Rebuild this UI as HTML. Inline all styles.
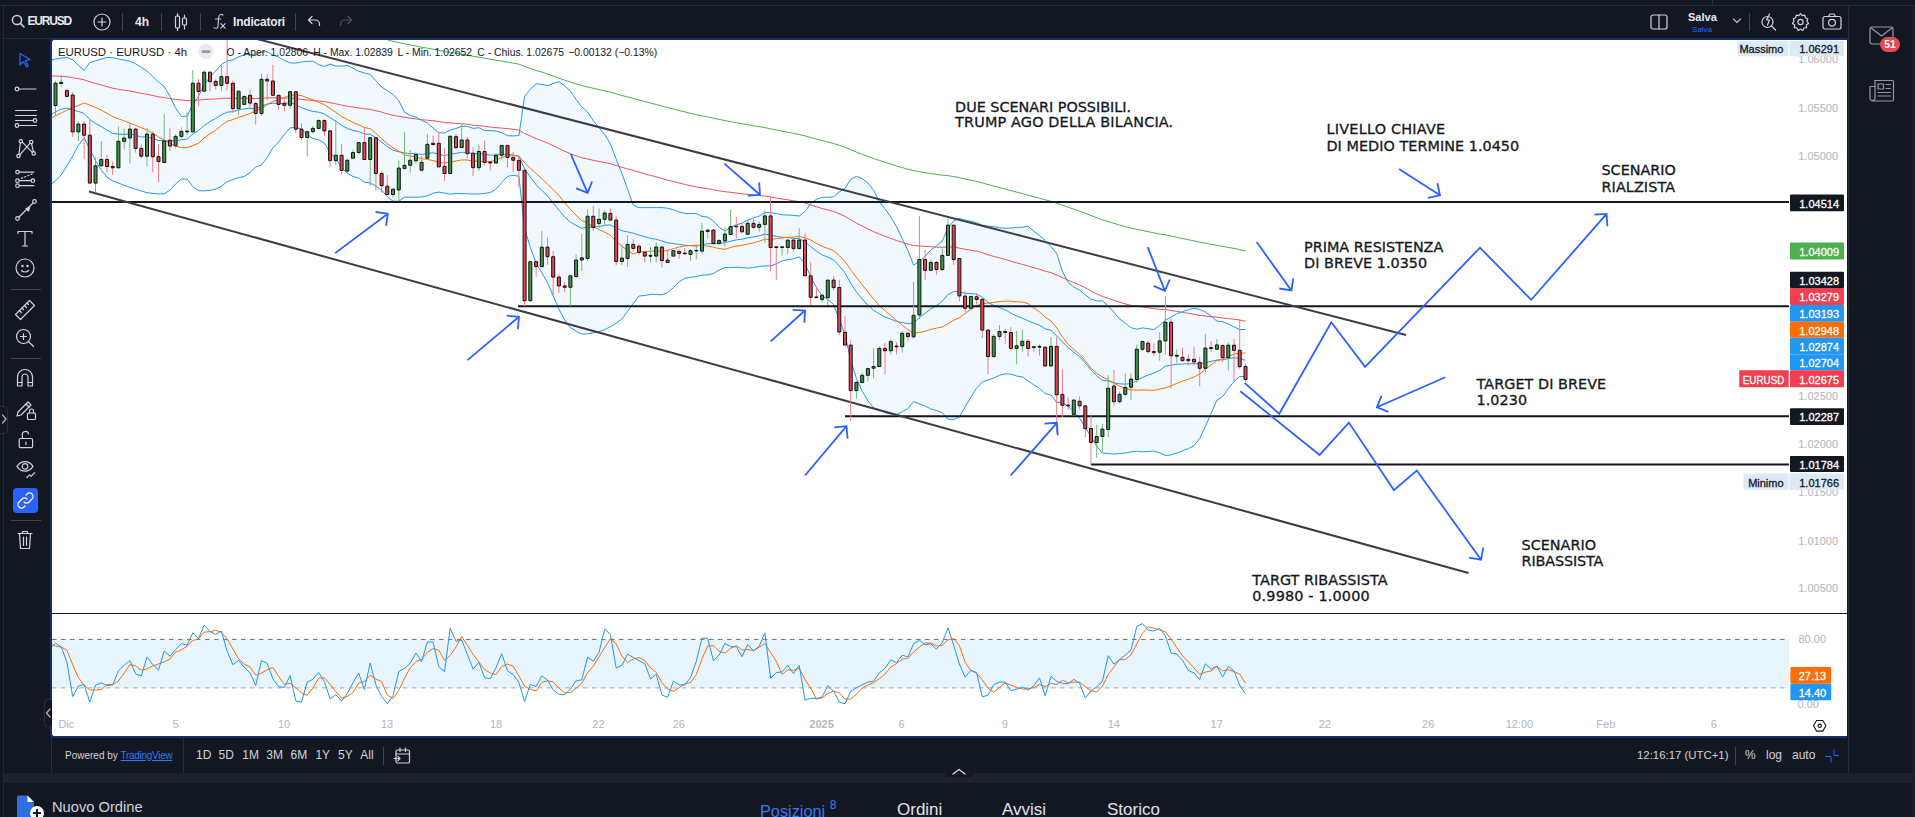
<!DOCTYPE html>
<html><head><meta charset="utf-8"><title>EURUSD</title><style>
*{box-sizing:border-box}
html,body{margin:0;padding:0;width:1915px;height:817px;overflow:hidden;background:#131722;font-family:"Liberation Sans", Arial, sans-serif;}
.a{position:absolute}
#strip{left:0;top:0;width:1915px;height:5px;background:#141823}
#topline{left:0;top:5px;width:1915px;height:1px;background:#2a2e39}
#lline{left:3px;top:5px;width:1px;height:812px;background:#262a35}
#rline{left:1913px;top:5px;width:2px;height:812px;background:#1c1f28}
#tbsep{left:4px;top:38px;width:1845px;height:1px;background:#2a2e39}
#rsep{left:1848px;top:6px;width:1px;height:767px;background:#2a2e39}
#chartbox{left:50px;top:38px;width:1797px;height:700px;border:2px solid #1c2e69;border-right:none;border-radius:4px 0 0 4px;background:#fff;overflow:hidden}
#hstrip{left:4px;top:773px;width:1909px;height:10px;background:#1e222d}
.tb{color:#d1d4dc;font-size:13px;white-space:nowrap}
.vs{width:1px;height:18px;background:#434651;top:13px}
svg text{font-family:"Liberation Sans", Arial, sans-serif}
</style></head><body>
<div class="a" id="strip"></div><div class="a" id="topline"></div><div class="a" id="lline"></div><div class="a" id="rline"></div>
<div class="a" id="tbsep"></div><div class="a" style="left:1712px;top:0;width:1px;height:5px;background:#2a2e39"></div><div class="a" id="rsep"></div>
<div class="a" id="chartbox"></div>
<div class="a" id="hstrip"></div>
<svg class="a" style="left:11px;top:14px" width="14" height="14" viewBox="0 0 14 14" fill="none" stroke="#d1d4dc" stroke-width="1.5" stroke-linecap="round" stroke-linejoin="round"><circle cx="6" cy="6" r="4.6"/><path d="M9.4 9.4L13 13"/></svg><div class="a tb" style="left:27.5px;top:14px;font-weight:bold;font-size:12px;letter-spacing:-1.2px;color:#e6e8ee">EURUSD</div><svg class="a" style="left:93px;top:13px" width="18" height="18" viewBox="0 0 18 18" fill="none" stroke="#d1d4dc" stroke-width="1.2" stroke-linecap="round" stroke-linejoin="round"><circle cx="9" cy="9" r="8"/><path d="M9 5v8M5 9h8"/></svg><div class="a vs" style="left:122px"></div><div class="a vs" style="left:161px"></div><div class="a vs" style="left:200px"></div><div class="a vs" style="left:295px"></div><div class="a tb" style="left:135px;top:14.5px;font-weight:bold;font-size:12px;color:#e6e8ee">4h</div><svg class="a" style="left:174px;top:12px" width="14" height="20" viewBox="0 0 14 20" fill="none" stroke="#d1d4dc" stroke-width="1.2" stroke-linecap="round" stroke-linejoin="round"><rect x="1.5" y="4" width="4" height="12" rx="1"/><path d="M3.5 1.5v2.5M3.5 16v2.5"/><rect x="8.5" y="6" width="4" height="7" rx="1"/><path d="M10.5 3v3M10.5 13v4"/></svg><svg class="a" style="left:210px;top:12px" width="18" height="18" viewBox="0 0 18 18" fill="none" stroke="#c9ccd4" stroke-width="1.1" stroke-linecap="round" stroke-linejoin="round"><path d="M13 3.2C12 2 9.2 2 8.8 4.8L8 14.5C7.8 16.5 5.6 16.8 4 15.6M5.5 7H10.5M10.8 11.7L15.2 16.2M15.2 11.7L10.8 16.2"/></svg><div class="a tb" style="left:233px;top:15px;font-weight:bold;font-size:12px;letter-spacing:-0.2px;color:#e6e8ee">Indicatori</div><svg class="a" style="left:307px;top:15px" width="14" height="12" viewBox="0 0 14 12" fill="none" stroke="#d1d4dc" stroke-width="1.2" stroke-linecap="round" stroke-linejoin="round"><path d="M5 1.5L1.5 5 5 8.5M1.5 5H8.5a4 4 0 0 1 4 4v1.5"/></svg><svg class="a" style="left:339px;top:15px" width="14" height="12" viewBox="0 0 14 12" fill="none" stroke="#50535e" stroke-width="1.2" stroke-linecap="round" stroke-linejoin="round"><path d="M9 1.5L12.5 5 9 8.5M12.5 5H5.5a4 4 0 0 0-4 4v1.5"/></svg><svg class="a" style="left:1650px;top:14px" width="18" height="16" viewBox="0 0 18 16" fill="none" stroke="#d1d4dc" stroke-width="1.2" stroke-linecap="round" stroke-linejoin="round"><rect x="1" y="1" width="16" height="14" rx="2"/><path d="M9 1v14"/></svg><div class="a tb" style="left:1688px;top:11px;font-size:11px;font-weight:bold;color:#e6e8ee">Salva</div><div class="a tb" style="left:1692px;top:24.5px;font-size:8px;color:#2962ff">Salva</div><svg class="a" style="left:1732px;top:17px" width="10" height="8" viewBox="0 0 10 8" fill="none" stroke="#b2b5be" stroke-width="1.2" stroke-linecap="round" stroke-linejoin="round"><path d="M1.5 2l3.5 3.5L8.5 2"/></svg><div class="a vs" style="left:1749px;top:13px"></div><svg class="a" style="left:1760px;top:12px" width="18" height="19" viewBox="0 0 18 19" fill="none" stroke="#d1d4dc" stroke-width="1.2" stroke-linecap="round" stroke-linejoin="round"><circle cx="7.5" cy="10" r="5.5"/><path d="M11.5 14l4 4"/><path d="M9.5 2L6.5 8h3l-2 5"/></svg><svg class="a" style="left:1791px;top:12px" width="19" height="19" viewBox="0 0 19 19" fill="none" stroke="#d1d4dc" stroke-width="1.2" stroke-linecap="round" stroke-linejoin="round"><path d="M9.5 1.5l1.6 2.2 2.6-.6.6 2.6 2.5 1-.9 2.5 1.6 2.2-2.2 1.6.4 2.7-2.7.3-1.2 2.4-2.3-1.4-2.3 1.4-1.2-2.4-2.7-.3.4-2.7-2.2-1.6 1.6-2.2-.9-2.5 2.5-1 .6-2.6 2.6.6z"/><circle cx="9.5" cy="10" r="2.6"/></svg><svg class="a" style="left:1822px;top:13px" width="20" height="17" viewBox="0 0 20 17" fill="none" stroke="#d1d4dc" stroke-width="1.2" stroke-linecap="round" stroke-linejoin="round"><rect x="1" y="3.5" width="18" height="12.5" rx="2"/><path d="M6.5 3.5l1.5-2.5h4l1.5 2.5"/><circle cx="10" cy="9.8" r="3.4"/></svg><svg class="a" style="left:1869px;top:26px" width="25" height="19" viewBox="0 0 25 19" fill="none" stroke="#9598a1" stroke-width="1.2" stroke-linecap="round" stroke-linejoin="round"><rect x="1" y="1" width="23" height="17" rx="2"/><path d="M1.5 1.5L12.5 10 23.5 1.5"/></svg><div class="a" style="left:1880px;top:36.5px;width:20px;height:15.5px;border-radius:8px;background:#e5484d;color:#fff;font-size:10.5px;font-weight:bold;text-align:center;line-height:15.5px">51</div><svg class="a" style="left:1869px;top:78px" width="26" height="24" viewBox="0 0 26 24" fill="none" stroke="#9598a1" stroke-width="1.2" stroke-linecap="round" stroke-linejoin="round"><path d="M6 2.5h17a1.5 1.5 0 0 1 1.5 1.5v17.5a1.5 1.5 0 0 1-1.5 1.5H4a3 3 0 0 1-3-3V8.5h5"/><path d="M6 2.5v17.5a2.5 2.5 0 0 1-2.5 2.5"/><rect x="9" y="6" width="5.5" height="5"/><path d="M17 6.5h4.5M17 10.5h4.5M9 14.5h12.5M9 18h12.5"/></svg>
<svg class="a" style="left:18px;top:52px" width="14" height="16" viewBox="0 0 14 16" fill="none" stroke="#2962ff" stroke-width="1.3" stroke-linecap="round" stroke-linejoin="round"><path d="M2 1.5l10 6-4.5 1.2 2.8 5.3-1.8.9-2.8-5.2L2 12.8z"/></svg><svg class="a" style="left:14px;top:83px" width="24" height="12" viewBox="0 0 24 12" fill="none" stroke="#d1d4dc" stroke-width="1.2" stroke-linecap="round" stroke-linejoin="round"><circle cx="3" cy="6" r="1.8"/><path d="M4.8 6H22"/></svg><svg class="a" style="left:14px;top:108px" width="24" height="20" viewBox="0 0 24 20" fill="none" stroke="#d1d4dc" stroke-width="1.2" stroke-linecap="round" stroke-linejoin="round"><path d="M1.5 2.5h21M1.5 7.5h21M1.5 12.5h18M4.5 17.5h18"/><circle cx="21" cy="12.5" r="1.8"/><circle cx="3" cy="17.5" r="1.8"/></svg><svg class="a" style="left:14px;top:137px" width="24" height="24" viewBox="0 0 24 24" fill="none" stroke="#d1d4dc" stroke-width="1.2" stroke-linecap="round" stroke-linejoin="round"><circle cx="6.8" cy="4.3" r="1.7"/><circle cx="17.2" cy="5.1" r="1.7"/><circle cx="4.5" cy="19" r="1.7"/><circle cx="19.7" cy="16.4" r="1.7"/><path d="M6.4 6L4.9 17.3M5.8 17.8L15.9 6.3M8.3 5.2L18.3 15.4M17.6 6.8L19.4 14.7"/></svg><svg class="a" style="left:14px;top:168px" width="24" height="22" viewBox="0 0 24 22" fill="none" stroke="#d1d4dc" stroke-width="1.2" stroke-linecap="round" stroke-linejoin="round"><circle cx="3.5" cy="4.1" r="1.8"/><circle cx="3.5" cy="12.7" r="1.8"/><circle cx="3.5" cy="17.7" r="1.8"/><circle cx="18.9" cy="12.7" r="1.8"/><path d="M5.3 4.1H19.8M5.3 12.7H17.1M5.3 17.7H19.8"/><path d="M7.5 10.3L18.5 5.8" stroke-dasharray="1.2 2.2"/></svg><svg class="a" style="left:14px;top:198px" width="24" height="24" viewBox="0 0 24 24" fill="none" stroke="#d1d4dc" stroke-width="1.2" stroke-linecap="round" stroke-linejoin="round"><circle cx="3.5" cy="20.5" r="1.8"/><circle cx="20.5" cy="3.5" r="1.8"/><path d="M5 19L19 5"/><path d="M12 10.5l3.5-1 -1 3.5z" fill="#d1d4dc"/></svg><svg class="a" style="left:16px;top:229px" width="18" height="18" viewBox="0 0 18 18" fill="none" stroke="#d1d4dc" stroke-width="1.2" stroke-linecap="round" stroke-linejoin="round"><path d="M2 2.5h14M9 2.5V17M6.5 17h5M2 2.5v2M16 2.5v2"/></svg><svg class="a" style="left:15px;top:258px" width="20" height="20" viewBox="0 0 20 20" fill="none" stroke="#d1d4dc" stroke-width="1.2" stroke-linecap="round" stroke-linejoin="round"><circle cx="10" cy="10" r="9"/><path d="M6.5 12.5c1.8 2 5.2 2 7 0"/><circle cx="7.5" cy="8" r=".6" fill="#d1d4dc"/><circle cx="12.5" cy="8" r=".6" fill="#d1d4dc"/></svg><div class="a" style="left:11px;top:289px;width:30px;height:1px;background:#434651"></div><svg class="a" style="left:14px;top:297px" width="22" height="24" viewBox="0 0 22 24" fill="none" stroke="#d1d4dc" stroke-width="1.2" stroke-linecap="round" stroke-linejoin="round"><path d="M1.5 17.5L15.5 3.5l5 5-14 14z"/><path d="M5.5 13.5l2 2M8 11l1.5 1.5M10.5 8.5l2 2M13 6l1.5 1.5"/></svg><svg class="a" style="left:15px;top:328px" width="20" height="20" viewBox="0 0 20 20" fill="none" stroke="#d1d4dc" stroke-width="1.2" stroke-linecap="round" stroke-linejoin="round"><circle cx="8.5" cy="8.5" r="7"/><path d="M13.5 13.5l5 5M8.5 5.5v6M5.5 8.5h6"/></svg><div class="a" style="left:11px;top:358px;width:30px;height:1px;background:#434651"></div><svg class="a" style="left:16px;top:368px" width="18" height="20" viewBox="0 0 18 20" fill="none" stroke="#d1d4dc" stroke-width="1.2" stroke-linecap="round" stroke-linejoin="round"><path d="M1.5 18v-9a7.5 7.5 0 0 1 15 0v9h-4.5v-9a3 3 0 0 0-6 0v9z"/><path d="M1.5 14.5H6M12 14.5h4.5"/></svg><svg class="a" style="left:15px;top:398px" width="22" height="24" viewBox="0 0 22 24" fill="none" stroke="#d1d4dc" stroke-width="1.2" stroke-linecap="round" stroke-linejoin="round"><path d="M2 18l1-4L13 4l3 3L6 17z"/><path d="M11 6l3 3"/><rect x="12.5" y="15" width="8" height="6.5" rx="1"/><path d="M14.5 15v-2a2 2 0 0 1 4 0v2"/></svg><svg class="a" style="left:16px;top:430px" width="18" height="20" viewBox="0 0 18 20" fill="none" stroke="#d1d4dc" stroke-width="1.2" stroke-linecap="round" stroke-linejoin="round"><rect x="3.2" y="8.5" width="13.4" height="9.2" rx="1.4"/><path d="M6.4 8.5V5.2a3.1 3.1 0 0 1 6.1-1.2"/><path d="M9.9 12v2.4"/></svg><svg class="a" style="left:14px;top:456px" width="24" height="24" viewBox="0 0 24 24" fill="none" stroke="#d1d4dc" stroke-width="1.2" stroke-linecap="round" stroke-linejoin="round"><path d="M3 10.4C7 4 15 4 19 10.4 15 16.8 7 16.8 3 10.4z"/><circle cx="11" cy="10.4" r="2.8"/><path d="M13 21.5l2.5-2.6 1.6 1.4 3.5-3.6"/></svg><div class="a" style="left:13px;top:488px;width:25px;height:25px;border-radius:4px;background:#2962ff"></div><svg class="a" style="left:16px;top:491px" width="19" height="19" viewBox="0 0 19 19" fill="none" stroke="#fff" stroke-width="1.2" stroke-linecap="round" stroke-linejoin="round"><path d="M8 11a3.5 3.5 0 0 0 5 0l3-3a3.5 3.5 0 0 0-5-5l-1 1"/><path d="M11 8a3.5 3.5 0 0 0-5 0l-3 3a3.5 3.5 0 0 0 5 5l1-1"/></svg><div class="a" style="left:11px;top:520px;width:30px;height:1px;background:#434651"></div><svg class="a" style="left:17px;top:530px" width="16" height="20" viewBox="0 0 16 20" fill="none" stroke="#d1d4dc" stroke-width="1.2" stroke-linecap="round" stroke-linejoin="round"><path d="M1 3.5h14M5.5 3.5V1.5h5v2M2.5 3.5l1 15h9l1-15M6.5 7v8.5M9.5 7v8.5"/></svg><div class="a" style="left:0px;top:406px;width:8px;height:28px;border:1px solid #2a2e39;border-left:none;border-radius:0 4px 4px 0;background:#131722"></div><svg class="a" style="left:1px;top:413px" width="7" height="12" viewBox="0 0 7 12" fill="none" stroke="#b2b5be" stroke-width="1.2" stroke-linecap="round" stroke-linejoin="round"><path d="M1.5 2l3.5 4-3.5 4"/></svg><div class="a" style="left:44px;top:699px;width:8px;height:28px;border:1px solid #2a2e39;border-right:none;border-radius:4px 0 0 4px;background:#131722"></div><svg class="a" style="left:45px;top:707px" width="7" height="12" viewBox="0 0 7 12" fill="none" stroke="#b2b5be" stroke-width="1.2" stroke-linecap="round" stroke-linejoin="round"><path d="M5 2L1.5 6 5 10"/></svg>
<div class="a" style="left:51px;top:738px;width:1px;height:35px;background:#2a2e39"></div><div class="a" style="left:183px;top:738px;width:1px;height:35px;background:#2a2e39"></div><div class="a tb" style="left:65px;top:749.5px;font-size:10px;color:#d1d4dc">Powered by <span style="color:#3179f5;text-decoration:underline;letter-spacing:-0.3px">TradingView</span></div><div class="a tb" style="left:196px;top:748px;font-size:12px">1D</div><div class="a tb" style="left:218.5px;top:748px;font-size:12px">5D</div><div class="a tb" style="left:242.3px;top:748px;font-size:12px">1M</div><div class="a tb" style="left:266.3px;top:748px;font-size:12px">3M</div><div class="a tb" style="left:290.6px;top:748px;font-size:12px">6M</div><div class="a tb" style="left:315.4px;top:748px;font-size:12px">1Y</div><div class="a tb" style="left:338.1px;top:748px;font-size:12px">5Y</div><div class="a tb" style="left:360.3px;top:748px;font-size:12px">All</div><div class="a vs" style="left:383px;top:747px"></div><svg class="a" style="left:393px;top:747px" width="18" height="18" viewBox="0 0 18 18" fill="none" stroke="#d1d4dc" stroke-width="1.2" stroke-linecap="round" stroke-linejoin="round"><rect x="3" y="3" width="13.5" height="13" rx="1.5"/><path d="M3 7h13.5M7 1v3.5M12.5 1v3.5M1 11.5h6M5 9.5l2 2-2 2"/></svg><div class="a tb" style="left:1637px;top:749px;font-size:11.4px">12:16:17 (UTC+1)</div><div class="a vs" style="left:1735px;top:747px"></div><div class="a tb" style="left:1745px;top:748px;font-size:12px">%</div><div class="a tb" style="left:1766px;top:748px;font-size:12px">log</div><div class="a tb" style="left:1792px;top:748px;font-size:12px">auto</div><svg class="a" style="left:1825px;top:749px" width="15" height="14" viewBox="0 0 15 14" fill="none" stroke="#2962ff" stroke-width="1" stroke-linecap="round" stroke-linejoin="round"><path d="M9 .5V6.5H13.5M.5 7.5H6V13"/></svg><div class="a" style="left:945px;top:767px;width:28px;height:10px;border-radius:3px;background:#131722"></div><svg class="a" style="left:951px;top:768px" width="16" height="7" viewBox="0 0 16 7" fill="none" stroke="#d1d4dc" stroke-width="1.4" stroke-linecap="round" stroke-linejoin="round"><path d="M2 6l6-4.5L14 6"/></svg><svg class="a" style="left:15px;top:795px" width="30" height="22" viewBox="0 0 30 22"><path d="M2 2a1.5 1.5 0 0 1 1.5-1.5h9L19 7v15H2z" fill="#2f6fe0"/><path d="M12.5 .5V7H19z" fill="#fff"/><circle cx="22" cy="18" r="7" fill="#fff"/><path d="M22 14v8M18 18h8" stroke="#131722" stroke-width="2"/></svg><div class="a tb" style="left:52px;top:798.5px;font-size:14.7px;color:#d1d4dc">Nuovo Ordine</div><div class="a tb" style="left:760px;top:800px;font-size:16.3px;color:#3a7bf0">Posizioni <sup style="font-size:12px;position:relative;top:-2px">8</sup></div><div class="a tb" style="left:897px;top:800px;font-size:17px;color:#e1e3ea">Ordini</div><div class="a tb" style="left:1002px;top:800px;font-size:17px;color:#e1e3ea">Avvisi</div><div class="a tb" style="left:1107px;top:800px;font-size:17px;color:#e1e3ea">Storico</div>
<svg class="a" style="left:0;top:0" width="1915" height="817" viewBox="0 0 1915 817">
<defs><clipPath id="cm"><rect x="52" y="40" width="1737" height="573"/></clipPath><clipPath id="cs"><rect x="52" y="614" width="1737" height="98"/></clipPath></defs>
<g clip-path="url(#cm)">
<polygon points="49.8,60.5 55.5,59 61.2,58.1 66.9,57.3 72.7,59.8 78.4,65.1 84.1,70.4 89.8,62.5 95.5,60.8 101.3,59.1 107,57.4 112.7,57.7 118.4,58.9 124.2,60.1 129.9,61.3 135.6,63.8 141.3,67.4 147,71 152.8,76.4 158.5,82.1 164.2,86.4 169.9,96.3 175.6,108 181.4,116.4 187.1,116.3 192.8,104.5 198.5,96.2 204.2,84.9 210,76.9 215.7,70.8 221.4,64.5 227.1,60.9 232.9,59.8 238.6,56.8 244.3,54.8 250,54.2 255.7,55.4 261.5,52.1 267.2,51.7 272.9,55.1 278.6,57 284.3,60.5 290.1,62.8 295.8,63.1 301.5,61.9 307.2,61.4 312.9,61.1 318.7,64.7 324.4,66.4 330.1,64.2 335.8,66.1 341.6,66.1 347.3,65.4 353,68.2 358.7,71.2 364.4,73 370.2,74.4 375.9,80.7 381.6,87.1 387.3,90.6 393,94.5 398.8,100.7 404.5,112.1 410.2,115.3 415.9,117 421.6,120.3 427.4,123 433.1,128 438.8,132.7 444.5,133 450.2,130 456,128.5 461.7,126.2 467.4,126.3 473.1,128.4 478.9,127.7 484.6,130.7 490.3,130.6 496,131 501.7,132.6 507.5,135.7 513.2,135.9 518.9,135.6 524.6,96.5 530.3,89.3 536.1,83.7 541.8,84.5 547.5,85.6 553.2,83.6 558.9,81.6 564.7,85.8 570.4,91 576.1,99.5 581.8,106.9 587.6,111.9 593.3,120.7 599,127.6 604.7,134.4 610.4,144 616.2,159.1 621.9,173.4 627.6,189.2 633.3,205.3 639,207.7 644.8,207.6 650.5,207.6 656.2,207.6 661.9,207.6 667.6,208.2 673.4,209.7 679.1,212.1 684.8,213.4 690.5,213.5 696.3,213.5 702,216.4 707.7,217.1 713.4,220.9 719.1,227.2 724.9,231 730.6,227.6 736.3,224.7 742,223.2 747.7,220 753.5,218 759.2,216 764.9,212.6 770.6,212.6 776.3,213.5 782.1,214.8 787.8,215 793.5,215.4 799.2,216 805,211.6 810.7,203.5 816.4,199.3 822.1,197.4 827.8,197.2 833.6,196.9 839.3,191.8 845,188.3 850.7,179.3 856.4,176.3 862.2,178.5 867.9,183.1 873.6,190.2 879.3,201.8 885,208.8 890.8,217 896.5,226.4 902.2,238.6 907.9,250.3 913.6,265.1 919.4,261.2 925.1,256.3 930.8,250 936.5,245.7 942.3,241 948,228.4 953.7,220.8 959.4,218.5 965.1,220.2 970.9,221.2 976.6,222.8 982.3,225.1 988,226.1 993.7,226.7 999.5,227.8 1005.2,228.2 1010.9,228.1 1016.6,227.4 1022.3,227.2 1028.1,226.3 1033.8,231.3 1039.5,235.4 1045.2,240.6 1051,246.7 1056.7,253.4 1062.4,271.2 1068.1,282.1 1073.8,287 1079.6,290.2 1085.3,294.8 1091,299.2 1096.7,300.8 1102.4,300.9 1108.2,305.8 1113.9,312.1 1119.6,319 1125.3,323.2 1131,327.7 1136.8,329.2 1142.5,327.9 1148.2,328.6 1153.9,329.6 1159.7,325.4 1165.4,320.2 1171.1,316.9 1176.8,313.8 1182.5,311.7 1188.3,309.7 1194,308.3 1199.7,309.4 1205.4,312 1211.1,316.1 1216.9,321.1 1222.6,321.7 1228.3,323.9 1234,326.8 1239.7,329.6 1245.5,329.5 1245.5,376.6 1239.7,376.5 1234,381.4 1228.3,388.6 1222.6,396.6 1216.9,400.2 1211.1,413.6 1205.4,426.5 1199.7,438.5 1194,445.7 1188.3,448.7 1182.5,450.7 1176.8,453.1 1171.1,454.9 1165.4,455.5 1159.7,452.8 1153.9,451.1 1148.2,451.5 1142.5,451.9 1136.8,451.2 1131,451.9 1125.3,453.1 1119.6,453.4 1113.9,454.1 1108.2,453.5 1102.4,453.1 1096.7,446 1091,436.9 1085.3,427 1079.6,418.4 1073.8,411.9 1068.1,406.3 1062.4,402.6 1056.7,402.4 1051,395.1 1045.2,393.6 1039.5,388.4 1033.8,384.8 1028.1,381 1022.3,376.8 1016.6,376.1 1010.9,374.1 1005.2,373.9 999.5,375.2 993.7,378.2 988,380 982.3,382 976.6,388.2 970.9,397.3 965.1,406.9 959.4,416.8 953.7,419.5 948,419.2 942.3,412.8 936.5,410.5 930.8,408.9 925.1,406.1 919.4,403.9 913.6,401.6 907.9,408.8 902.2,411.8 896.5,414.6 890.8,414 885,412.8 879.3,409.5 873.6,407.9 867.9,400.8 862.2,391.2 856.4,378.3 850.7,360.2 845,334.7 839.3,319.4 833.6,304.5 827.8,299.6 822.1,295.6 816.4,287.4 810.7,276.6 805,263.8 799.2,256.9 793.5,258.8 787.8,259.7 782.1,260.9 776.3,263.8 770.6,266 764.9,265.9 759.2,266.5 753.5,267.6 747.7,268.1 742,267.5 736.3,267.2 730.6,267.5 724.9,267.6 719.1,270 713.4,273.5 707.7,274.9 702,275.2 696.3,276.6 690.5,277.4 684.8,278.4 679.1,281.9 673.4,287.7 667.6,292.7 661.9,294.8 656.2,294.4 650.5,294.4 644.8,295.5 639,296 633.3,303.2 627.6,311.5 621.9,318.9 616.2,323.2 610.4,326.7 604.7,329.7 599,331.5 593.3,332.8 587.6,333.9 581.8,334.1 576.1,331.1 570.4,327.6 564.7,320 558.9,309.1 553.2,295.9 547.5,282.8 541.8,272.7 536.1,263.2 530.3,247.2 524.6,229.3 518.9,176.2 513.2,175.3 507.5,176.4 501.7,182.6 496,189.1 490.3,192.5 484.6,193.5 478.9,194 473.1,194.1 467.4,193.7 461.7,193.7 456,193.4 450.2,194.2 444.5,193.1 438.8,192.1 433.1,193.2 427.4,195.8 421.6,197 415.9,197.1 410.2,197.2 404.5,197.2 398.8,201.3 393,201.2 387.3,196.6 381.6,190.2 375.9,186.1 370.2,183 364.4,182.1 358.7,178.1 353,176.5 347.3,173.2 341.6,167.4 335.8,158.6 330.1,152.7 324.4,143 318.7,139.8 312.9,138.5 307.2,134.5 301.5,129.1 295.8,127.3 290.1,127.9 284.3,134.6 278.6,142.2 272.9,147.7 267.2,157.8 261.5,164.9 255.7,167.1 250,172.5 244.3,176.5 238.6,177.7 232.9,179.5 227.1,181.6 221.4,186.4 215.7,189.1 210,190.4 204.2,190.9 198.5,190.7 192.8,186.7 187.1,179.1 181.4,179 175.6,183.9 169.9,190.2 164.2,193.8 158.5,193.9 152.8,193.4 147,192.7 141.3,191 135.6,189.3 129.9,187.5 124.2,185.4 118.4,183.1 112.7,180.9 107,177.1 101.3,170.2 95.5,160.6 89.8,149.2 84.1,137.8 78.4,145.4 72.7,156 66.9,165.9 61.2,175 55.5,180.8 49.8,185.5" fill="#2196f3" fill-opacity="0.06"/>
<polyline points="49.8,-31.5 55.5,-30.9 61.2,-29.7 66.9,-28.5 72.7,-26.9 78.4,-25.4 84.1,-23.8 89.8,-21.7 95.5,-19.9 101.3,-18.1 107,-16.2 112.7,-14.4 118.4,-12.9 124.2,-11.3 129.9,-10 135.6,-8.4 141.3,-6.7 147,-5.3 152.8,-3.7 158.5,-2.1 164.2,-0.7 169.9,0.8 175.6,2.2 181.4,3.4 187.1,4.7 192.8,5.5 198.5,6.3 204.2,7 210,7.7 215.7,8.5 221.4,9.2 227.1,9.9 232.9,10.9 238.6,11.7 244.3,12.6 250,13.5 255.7,14.5 261.5,15.1 267.2,15.8 272.9,16.5 278.6,17.4 284.3,18.3 290.1,19 295.8,20.1 301.5,21.3 307.2,22.4 312.9,23.4 318.7,24.4 324.4,25.5 330.1,26.8 335.8,28.1 341.6,29.5 347.3,30.8 353,32 358.7,33.1 364.4,34.4 370.2,35.4 375.9,36.8 381.6,38.3 387.3,39.8 393,41.3 398.8,42.6 404.5,43.8 410.2,44.9 415.9,46 421.6,47.2 427.4,48.2 433.1,49.1 438.8,50.3 444.5,51.5 450.2,52.4 456,53.3 461.7,54.2 467.4,55.2 473.1,56.3 478.9,57.2 484.6,58.3 490.3,59.3 496,60.3 501.7,61.1 507.5,62.1 513.2,63.1 518.9,64.1 524.6,66.5 530.3,68.4 536.1,70.4 541.8,72.1 547.5,74 553.2,76 558.9,78.1 564.7,80.2 570.4,82.1 576.1,83.9 581.8,85.6 587.6,86.9 593.3,88.3 599,89.6 604.7,90.9 610.4,92.1 616.2,93.8 621.9,95.5 627.6,96.9 633.3,98.4 639,100 644.8,101.5 650.5,103.1 656.2,104.5 661.9,106 667.6,107.6 673.4,109 679.1,110.5 684.8,111.9 690.5,113.3 696.3,114.6 702,115.8 707.7,116.9 713.4,118.2 719.1,119.4 724.9,120.6 730.6,121.6 736.3,122.7 742,123.7 747.7,124.7 753.5,125.8 759.2,126.7 764.9,127.6 770.6,128.8 776.3,130 782.1,131.2 787.8,132.2 793.5,133.4 799.2,134.5 805,135.9 810.7,137.5 816.4,139.1 822.1,140.6 827.8,142 833.6,143.5 839.3,145.3 845,147.3 850.7,149.7 856.4,152.1 862.2,154.3 867.9,156.4 873.6,158.5 879.3,160.4 885,162.3 890.8,164.1 896.5,165.9 902.2,167.6 907.9,169.2 913.6,170.7 919.4,171.6 925.1,172.6 930.8,173.5 936.5,174.4 942.3,175.2 948,175.7 953.7,176.5 959.4,177.7 965.1,179 970.9,180.2 976.6,181.4 982.3,182.9 988,184.6 993.7,186.1 999.5,187.6 1005.2,189 1010.9,190.6 1016.6,192.1 1022.3,193.6 1028.1,195.2 1033.8,196.7 1039.5,198.2 1045.2,199.8 1051,201.3 1056.7,203.2 1062.4,205.2 1068.1,207.2 1073.8,209.1 1079.6,211.1 1085.3,213.3 1091,215.5 1096.7,217.7 1102.4,219.9 1108.2,221.5 1113.9,223.3 1119.6,225 1125.3,226.6 1131,228.2 1136.8,229.4 1142.5,230.5 1148.2,231.7 1153.9,232.9 1159.7,234 1165.4,234.8 1171.1,236 1176.8,237.2 1182.5,238.5 1188.3,239.7 1194,240.9 1199.7,242.2 1205.4,243.2 1211.1,244.3 1216.9,245.3 1222.6,246.4 1228.3,247.4 1234,248.4 1239.7,249.6 1245.5,250.9" fill="none" stroke="#4caf50" stroke-width="1"/>
<polyline points="49.8,76 55.5,76.1 61.2,76.3 66.9,76.7 72.7,77.8 78.4,78.7 84.1,79.8 89.8,81.8 95.5,83.5 101.3,85 107,86.6 112.7,88.2 118.4,89.3 124.2,90.2 129.9,91 135.6,92.2 141.3,93.4 147,94.2 152.8,95.5 158.5,96.8 164.2,97.6 169.9,98.6 175.6,99.4 181.4,100 187.1,100.6 192.8,100.3 198.5,100.1 204.2,99.5 210,99.2 215.7,98.9 221.4,98.5 227.1,98.2 232.9,98.4 238.6,98.2 244.3,98.2 250,98.3 255.7,98.6 261.5,98.2 267.2,97.9 272.9,97.8 278.6,97.9 284.3,98.1 290.1,98 295.8,98.6 301.5,99.4 307.2,100 312.9,100.6 318.7,101 324.4,101.6 330.1,102.7 335.8,103.8 341.6,105.1 347.3,106.2 353,107.1 358.7,107.8 364.4,108.8 370.2,109.4 375.9,110.7 381.6,112.1 387.3,113.8 393,115.3 398.8,116.3 404.5,117.3 410.2,118.1 415.9,118.9 421.6,119.7 427.4,120.2 433.1,120.7 438.8,121.6 444.5,122.6 450.2,122.9 456,123.4 461.7,123.7 467.4,124.3 473.1,125.2 478.9,125.7 484.6,126.4 490.3,127.1 496,127.7 501.7,128.1 507.5,128.6 513.2,129.3 518.9,130.1 524.6,133.5 530.3,136 536.1,138.6 541.8,140.7 547.5,143 553.2,145.7 558.9,148.5 564.7,151.2 570.4,153.7 576.1,155.8 581.8,157.8 587.6,159 593.3,160.3 599,161.5 604.7,162.5 610.4,163.6 616.2,165.6 621.9,167.4 627.6,168.9 633.3,170.5 639,172.1 644.8,173.8 650.5,175.4 656.2,176.8 661.9,178.5 667.6,180.1 673.4,181.5 679.1,183 684.8,184.4 690.5,185.7 696.3,187 702,187.8 707.7,188.7 713.4,189.8 719.1,190.8 724.9,191.7 730.6,192.3 736.3,193 742,193.8 747.7,194.4 753.5,195 759.2,195.6 764.9,196 770.6,197 776.3,198 782.1,199 787.8,199.8 793.5,200.8 799.2,201.6 805,203 810.7,204.9 816.4,206.7 822.1,208.5 827.8,209.9 833.6,211.4 839.3,213.8 845,216.4 850.7,219.9 856.4,223.1 862.2,226.1 867.9,228.9 873.6,231.7 879.3,234 885,236.3 890.8,238.4 896.5,240.5 902.2,242.3 907.9,244.2 913.6,245.6 919.4,245.9 925.1,246.4 930.8,246.7 936.5,247.1 942.3,247.3 948,246.9 953.7,247.1 959.4,248.1 965.1,249.3 970.9,250.2 976.6,251.2 982.3,252.8 988,254.8 993.7,256.4 999.5,257.9 1005.2,259.4 1010.9,261.2 1016.6,262.8 1022.3,264.4 1028.1,266 1033.8,267.7 1039.5,269.2 1045.2,271.2 1051,272.6 1056.7,275.1 1062.4,277.6 1068.1,280.2 1073.8,282.6 1079.6,285 1085.3,287.8 1091,290.9 1096.7,293.8 1102.4,296.5 1108.2,298.3 1113.9,300.3 1119.6,302.2 1125.3,303.9 1131,305.4 1136.8,306.2 1142.5,306.9 1148.2,307.8 1153.9,308.7 1159.7,309.3 1165.4,309.6 1171.1,310.5 1176.8,311.4 1182.5,312.4 1188.3,313.3 1194,314.3 1199.7,315.4 1205.4,316 1211.1,316.7 1216.9,317.2 1222.6,318 1228.3,318.6 1234,319.2 1239.7,320.1 1245.5,321.3" fill="none" stroke="#ef4f5c" stroke-width="1"/>
<polyline points="49.8,60.5 55.5,59 61.2,58.1 66.9,57.3 72.7,59.8 78.4,65.1 84.1,70.4 89.8,62.5 95.5,60.8 101.3,59.1 107,57.4 112.7,57.7 118.4,58.9 124.2,60.1 129.9,61.3 135.6,63.8 141.3,67.4 147,71 152.8,76.4 158.5,82.1 164.2,86.4 169.9,96.3 175.6,108 181.4,116.4 187.1,116.3 192.8,104.5 198.5,96.2 204.2,84.9 210,76.9 215.7,70.8 221.4,64.5 227.1,60.9 232.9,59.8 238.6,56.8 244.3,54.8 250,54.2 255.7,55.4 261.5,52.1 267.2,51.7 272.9,55.1 278.6,57 284.3,60.5 290.1,62.8 295.8,63.1 301.5,61.9 307.2,61.4 312.9,61.1 318.7,64.7 324.4,66.4 330.1,64.2 335.8,66.1 341.6,66.1 347.3,65.4 353,68.2 358.7,71.2 364.4,73 370.2,74.4 375.9,80.7 381.6,87.1 387.3,90.6 393,94.5 398.8,100.7 404.5,112.1 410.2,115.3 415.9,117 421.6,120.3 427.4,123 433.1,128 438.8,132.7 444.5,133 450.2,130 456,128.5 461.7,126.2 467.4,126.3 473.1,128.4 478.9,127.7 484.6,130.7 490.3,130.6 496,131 501.7,132.6 507.5,135.7 513.2,135.9 518.9,135.6 524.6,96.5 530.3,89.3 536.1,83.7 541.8,84.5 547.5,85.6 553.2,83.6 558.9,81.6 564.7,85.8 570.4,91 576.1,99.5 581.8,106.9 587.6,111.9 593.3,120.7 599,127.6 604.7,134.4 610.4,144 616.2,159.1 621.9,173.4 627.6,189.2 633.3,205.3 639,207.7 644.8,207.6 650.5,207.6 656.2,207.6 661.9,207.6 667.6,208.2 673.4,209.7 679.1,212.1 684.8,213.4 690.5,213.5 696.3,213.5 702,216.4 707.7,217.1 713.4,220.9 719.1,227.2 724.9,231 730.6,227.6 736.3,224.7 742,223.2 747.7,220 753.5,218 759.2,216 764.9,212.6 770.6,212.6 776.3,213.5 782.1,214.8 787.8,215 793.5,215.4 799.2,216 805,211.6 810.7,203.5 816.4,199.3 822.1,197.4 827.8,197.2 833.6,196.9 839.3,191.8 845,188.3 850.7,179.3 856.4,176.3 862.2,178.5 867.9,183.1 873.6,190.2 879.3,201.8 885,208.8 890.8,217 896.5,226.4 902.2,238.6 907.9,250.3 913.6,265.1 919.4,261.2 925.1,256.3 930.8,250 936.5,245.7 942.3,241 948,228.4 953.7,220.8 959.4,218.5 965.1,220.2 970.9,221.2 976.6,222.8 982.3,225.1 988,226.1 993.7,226.7 999.5,227.8 1005.2,228.2 1010.9,228.1 1016.6,227.4 1022.3,227.2 1028.1,226.3 1033.8,231.3 1039.5,235.4 1045.2,240.6 1051,246.7 1056.7,253.4 1062.4,271.2 1068.1,282.1 1073.8,287 1079.6,290.2 1085.3,294.8 1091,299.2 1096.7,300.8 1102.4,300.9 1108.2,305.8 1113.9,312.1 1119.6,319 1125.3,323.2 1131,327.7 1136.8,329.2 1142.5,327.9 1148.2,328.6 1153.9,329.6 1159.7,325.4 1165.4,320.2 1171.1,316.9 1176.8,313.8 1182.5,311.7 1188.3,309.7 1194,308.3 1199.7,309.4 1205.4,312 1211.1,316.1 1216.9,321.1 1222.6,321.7 1228.3,323.9 1234,326.8 1239.7,329.6 1245.5,329.5" fill="none" stroke="#2196f3" stroke-width="1"/>
<polyline points="49.8,185.5 55.5,180.8 61.2,175 66.9,165.9 72.7,156 78.4,145.4 84.1,137.8 89.8,149.2 95.5,160.6 101.3,170.2 107,177.1 112.7,180.9 118.4,183.1 124.2,185.4 129.9,187.5 135.6,189.3 141.3,191 147,192.7 152.8,193.4 158.5,193.9 164.2,193.8 169.9,190.2 175.6,183.9 181.4,179 187.1,179.1 192.8,186.7 198.5,190.7 204.2,190.9 210,190.4 215.7,189.1 221.4,186.4 227.1,181.6 232.9,179.5 238.6,177.7 244.3,176.5 250,172.5 255.7,167.1 261.5,164.9 267.2,157.8 272.9,147.7 278.6,142.2 284.3,134.6 290.1,127.9 295.8,127.3 301.5,129.1 307.2,134.5 312.9,138.5 318.7,139.8 324.4,143 330.1,152.7 335.8,158.6 341.6,167.4 347.3,173.2 353,176.5 358.7,178.1 364.4,182.1 370.2,183 375.9,186.1 381.6,190.2 387.3,196.6 393,201.2 398.8,201.3 404.5,197.2 410.2,197.2 415.9,197.1 421.6,197 427.4,195.8 433.1,193.2 438.8,192.1 444.5,193.1 450.2,194.2 456,193.4 461.7,193.7 467.4,193.7 473.1,194.1 478.9,194 484.6,193.5 490.3,192.5 496,189.1 501.7,182.6 507.5,176.4 513.2,175.3 518.9,176.2 524.6,229.3 530.3,247.2 536.1,263.2 541.8,272.7 547.5,282.8 553.2,295.9 558.9,309.1 564.7,320 570.4,327.6 576.1,331.1 581.8,334.1 587.6,333.9 593.3,332.8 599,331.5 604.7,329.7 610.4,326.7 616.2,323.2 621.9,318.9 627.6,311.5 633.3,303.2 639,296 644.8,295.5 650.5,294.4 656.2,294.4 661.9,294.8 667.6,292.7 673.4,287.7 679.1,281.9 684.8,278.4 690.5,277.4 696.3,276.6 702,275.2 707.7,274.9 713.4,273.5 719.1,270 724.9,267.6 730.6,267.5 736.3,267.2 742,267.5 747.7,268.1 753.5,267.6 759.2,266.5 764.9,265.9 770.6,266 776.3,263.8 782.1,260.9 787.8,259.7 793.5,258.8 799.2,256.9 805,263.8 810.7,276.6 816.4,287.4 822.1,295.6 827.8,299.6 833.6,304.5 839.3,319.4 845,334.7 850.7,360.2 856.4,378.3 862.2,391.2 867.9,400.8 873.6,407.9 879.3,409.5 885,412.8 890.8,414 896.5,414.6 902.2,411.8 907.9,408.8 913.6,401.6 919.4,403.9 925.1,406.1 930.8,408.9 936.5,410.5 942.3,412.8 948,419.2 953.7,419.5 959.4,416.8 965.1,406.9 970.9,397.3 976.6,388.2 982.3,382 988,380 993.7,378.2 999.5,375.2 1005.2,373.9 1010.9,374.1 1016.6,376.1 1022.3,376.8 1028.1,381 1033.8,384.8 1039.5,388.4 1045.2,393.6 1051,395.1 1056.7,402.4 1062.4,402.6 1068.1,406.3 1073.8,411.9 1079.6,418.4 1085.3,427 1091,436.9 1096.7,446 1102.4,453.1 1108.2,453.5 1113.9,454.1 1119.6,453.4 1125.3,453.1 1131,451.9 1136.8,451.2 1142.5,451.9 1148.2,451.5 1153.9,451.1 1159.7,452.8 1165.4,455.5 1171.1,454.9 1176.8,453.1 1182.5,450.7 1188.3,448.7 1194,445.7 1199.7,438.5 1205.4,426.5 1211.1,413.6 1216.9,400.2 1222.6,396.6 1228.3,388.6 1234,381.4 1239.7,376.5 1245.5,376.6" fill="none" stroke="#2196f3" stroke-width="1"/>
<polyline points="49.8,115.5 55.5,111.8 61.2,109.2 66.9,108.1 72.7,110.2 78.4,111.4 84.1,113.5 89.8,119.5 95.5,123.5 101.3,126.7 107,130.1 112.7,133.4 118.4,134.1 124.2,134.4 129.9,134 135.6,135.2 141.3,137 147,136.8 152.8,138.5 158.5,140.5 164.2,140.6 169.9,141 175.6,140.6 181.4,139.8 187.1,139.1 192.8,134.2 198.5,130.5 204.2,125.4 210,121.6 215.7,118.5 221.4,114.8 227.1,112.1 232.9,111.8 238.6,110 244.3,108.8 250,108.3 255.7,108.8 261.5,106.2 267.2,104 272.9,103.3 278.6,103.4 284.3,103.5 290.1,102.5 295.8,104.8 301.5,107.7 307.2,109.8 312.9,111.4 318.7,112.2 324.4,113.8 330.1,117.9 335.8,121.1 341.6,125.4 347.3,128.5 353,130.5 358.7,131.6 364.4,134 370.2,134.3 375.9,137.7 381.6,141.9 387.3,146.5 393,150.2 398.8,151.8 404.5,152.9 410.2,153.6 415.9,153.7 421.6,154.4 427.4,153.5 433.1,152.8 438.8,154 444.5,155.7 450.2,154 456,153.4 461.7,152.3 467.4,152.4 473.1,153.7 478.9,153.5 484.6,154.3 490.3,155.1 496,155.1 501.7,154.2 507.5,154.5 513.2,155 518.9,156.3 524.6,168.9 530.3,177 536.1,184.8 541.8,190.2 547.5,196 553.2,203 558.9,210.2 564.7,216.9 570.4,222.1 576.1,225.4 581.8,228.2 587.6,227.1 593.3,227.2 599,226.5 604.7,225.3 610.4,224.9 616.2,228 621.9,230.7 627.6,231.9 633.3,233.3 639,235 644.8,236.8 650.5,238.4 656.2,239.2 661.9,241 667.6,242.9 673.4,243.6 679.1,244.4 684.8,245.2 690.5,245.7 696.3,246.1 702,244.8 707.7,243.6 713.4,243.6 719.1,243.4 724.9,242.6 730.6,241.2 736.3,239.9 742,239.2 747.7,237.8 753.5,236.9 759.2,235.8 764.9,234.1 770.6,235.3 776.3,236.3 782.1,237.2 787.8,237.5 793.5,238.4 799.2,238.6 805,241.8 810.7,246.6 816.4,251.1 822.1,254.9 827.8,257.1 833.6,259.8 839.3,266 845,272.9 850.7,283.2 856.4,291.8 862.2,299 867.9,305.1 873.6,310.4 879.3,313.7 885,317 890.8,319.1 896.5,321.5 902.2,322.5 907.9,323.7 913.6,323 919.4,317.5 925.1,313.4 930.8,309 936.5,305.5 942.3,301.2 948,294.6 953.7,291.5 959.4,291.9 965.1,293.3 970.9,293.6 976.6,294.1 982.3,297.2 988,302.4 993.7,305.4 999.5,307.6 1005.2,309.8 1010.9,313.1 1016.6,316 1022.3,318.2 1028.1,320.8 1033.8,323.1 1039.5,325.2 1045.2,328.8 1051,330.3 1056.7,335.9 1062.4,342 1068.1,347.5 1073.8,352.1 1079.6,356.8 1085.3,363 1091,369.9 1096.7,375.7 1102.4,380.4 1108.2,381 1113.9,382.8 1119.6,383.8 1125.3,384.1 1131,383.7 1136.8,380.7 1142.5,377.3 1148.2,375.1 1153.9,373.1 1159.7,370.3 1165.4,366.1 1171.1,365.2 1176.8,364.4 1182.5,364 1188.3,363.8 1194,363.6 1199.7,364 1205.4,362.6 1211.1,361.4 1216.9,360 1222.6,359.8 1228.3,358.5 1234,357.8 1239.7,358.6 1245.5,360.4" fill="none" stroke="#2196f3" stroke-width="1"/>
<polyline points="49.8,118.7 55.5,115.8 61.2,113 66.9,110.1 72.7,107.6 78.4,105.3 84.1,103 89.8,105.1 95.5,107.4 101.3,110.1 107,113.3 112.7,116.6 118.4,118.8 124.2,120.9 129.9,123.1 135.6,125.4 141.3,127.7 147,130 152.8,133.3 158.5,136.8 164.2,140.1 169.9,143.3 175.6,146 181.4,147.7 187.1,147.7 192.8,145.6 198.5,143.4 204.2,137.9 210,133.7 215.7,130 221.4,125.5 227.1,121.3 232.9,119.6 238.6,117.3 244.3,115.7 250,113.4 255.7,111.2 261.5,108.5 267.2,104.7 272.9,101.4 278.6,99.6 284.3,97.5 290.1,95.3 295.8,95.2 301.5,95.5 307.2,97.9 312.9,99.8 318.7,102.2 324.4,104.7 330.1,108.4 335.8,112.4 341.6,116.7 347.3,119.3 353,122.4 358.7,124.7 364.4,127.5 370.2,128.7 375.9,133.4 381.6,138.7 387.3,143.6 393,147.9 398.8,151 404.5,154.7 410.2,156.2 415.9,157.1 421.6,158.6 427.4,159.4 433.1,160.6 438.8,162.4 444.5,163.1 450.2,162.1 456,161 461.7,159.9 467.4,160 473.1,161.3 478.9,160.9 484.6,162.1 490.3,161.6 496,160.1 501.7,157.6 507.5,156 513.2,155.6 518.9,155.9 524.6,162.9 530.3,168.2 536.1,173.5 541.8,178.6 547.5,184.2 553.2,189.7 558.9,195.3 564.7,202.9 570.4,209.3 576.1,215.3 581.8,220.5 587.6,222.9 593.3,226.7 599,229.6 604.7,232.1 610.4,235.3 616.2,241.1 621.9,246.2 627.6,250.4 633.3,254.3 639,251.8 644.8,251.6 650.5,251 656.2,251 661.9,251.2 667.6,250.5 673.4,248.7 679.1,247 684.8,245.9 690.5,245.4 696.3,245.1 702,245.8 707.7,246 713.4,247.2 719.1,248.6 724.9,249.3 730.6,247.5 736.3,246 742,245.3 747.7,244.1 753.5,242.8 759.2,241.2 764.9,239.3 770.6,239.3 776.3,238.7 782.1,237.9 787.8,237.3 793.5,237.1 799.2,236.4 805,237.7 810.7,240 816.4,243.3 822.1,246.5 827.8,248.4 833.6,250.7 839.3,255.6 845,261.5 850.7,269.7 856.4,277.3 862.2,284.9 867.9,291.9 873.6,299 879.3,305.7 885,310.8 890.8,315.5 896.5,320.5 902.2,325.2 907.9,329.6 913.6,333.3 919.4,332.5 925.1,331.2 930.8,329.4 936.5,328.1 942.3,326.9 948,323.8 953.7,320.2 959.4,317.7 965.1,313.6 970.9,309.3 976.6,305.5 982.3,303.6 988,303.1 993.7,302.5 999.5,301.5 1005.2,301.1 1010.9,301.1 1016.6,301.8 1022.3,302 1028.1,303.6 1033.8,308.1 1039.5,311.9 1045.2,317.1 1051,320.9 1056.7,327.9 1062.4,336.9 1068.1,344.2 1073.8,349.4 1079.6,354.3 1085.3,360.9 1091,368.1 1096.7,373.4 1102.4,377 1108.2,379.6 1113.9,383.1 1119.6,386.2 1125.3,388.2 1131,389.8 1136.8,390.2 1142.5,389.9 1148.2,390.1 1153.9,390.3 1159.7,389.1 1165.4,387.9 1171.1,385.9 1176.8,383.4 1182.5,381.2 1188.3,379.2 1194,377 1199.7,374 1205.4,369.3 1211.1,364.9 1216.9,360.6 1222.6,359.1 1228.3,356.3 1234,354.1 1239.7,353.1 1245.5,353.1" fill="none" stroke="#ff6d00" stroke-width="1"/>
<path d="M52 202H1790M518 306.2H1790M845 416.2H1790M1091 464.5H1790" stroke="#131722" stroke-width="2" fill="none"/>
<path d="M200 24.3L1406 335M89 191.5L1468.5 573" stroke="#3b3d45" stroke-width="2" fill="none"/>
<path d="M55.5 80.7V115.4M61.2 74.9V86.5M78.4 121.2V141M95.5 157.5V192.2M101.3 141V166.6M118.4 126.5V167.8M124.2 128.6V149.3M129.9 122.5V163.3M147 128.1V166.6M164.2 114.2V162.5M175.6 134.4V148.4M181.4 127.4V138.5M187.1 112.1V135.2M192.8 70V131.9M204.2 70.6V91.2M221.4 65.6V91.2M238.6 91.2V115.2M244.3 95V105M261.5 73.9V116M290.1 91.2V108.6M307.2 130.9V156.5M312.9 125.9V133.3M318.7 119V129.5M335.8 120.1V164.7M347.3 158.6V172.7M353 149.6V158.6M358.7 142.1V154.5M370.2 137.2V185.9M393 188.4V197.5M398.8 160.3V201.1M404.5 132.2V168.6M410.2 149.9V172.7M415.9 152.5V163.6M421.6 156.2V171M427.4 133.9V158.6M450.2 135.5V173.5M461.7 124V147.9M478.9 144.6V171M496 153V164M501.7 145V159.7M530.3 261.7V301.8M541.8 230.9V266.6M570.4 275.8V306.2M576.1 254.4V277.6M581.8 234V271M587.6 209.3V261M599 208.3V227.8M604.7 210.3V225.8M621.9 244.6V265.5M627.6 235.2V266.8M650.5 246.6V262.4M656.2 242.2V262.4M673.4 250V256.5M690.5 249.3V260.8M696.3 246V259.4M702 223.1V253.4M719.1 239.2V245.3M724.9 227.1V246.6M730.6 209.9V235.2M747.7 220.6V234.7M759.2 221.3V231.6M764.9 209.8V242.8M782.1 246.8V255.6M787.8 239.4V254.2M799.2 228V248.9M822.1 294.6V302.7M827.8 279.8V305M856.4 381.3V398.5M862.2 372.6V382.9M867.9 367.8V381.4M873.6 348.1V378.3M879.3 346.3V367M890.8 339.2V354.3M902.2 331.2V352.7M913.6 281.9V338.4M919.4 216V319M930.8 259.1V271.2M942.3 248.4V271.2M948 218.7V255.8M970.9 296.1V309.6M993.7 334V357.6M999.5 325.2V339.9M1016.6 331.1V364.4M1022.3 330.1V351.7M1051 337V366.4M1073.8 399.3V415.3M1096.7 425V457.7M1102.4 424.1V452.2M1108.2 375.2V437.2M1119.6 391.7V403.4M1125.3 373.3V396.1M1131 373.4V400M1136.8 344.5V382.9M1142.5 340.9V351.2M1159.7 332.4V360.7M1165.4 296V354.6M1176.8 349.2V363.4M1205.4 334.1V372.4M1216.9 339.1V349.9M1228.3 342.5V370.5" stroke="#74b879" stroke-width="1" fill="none"/>
<path d="M66.9 89V97.2M72.7 92.3V136.9M84.1 121.2V159.2M89.8 119.5V183.1M107 155V172.4M112.7 161.6V174.9M135.6 127.8V152.6M141.3 144.3V158.3M152.8 131.1V172.4M158.5 144.3V182.3M169.9 128.1V150.9M198.5 79V106.3M210 71.4V91.5M215.7 79.3V89.6M227.1 31V90.4M232.9 80.5V112.7M250 89.2V107.7M255.7 102V124.6M267.2 74.4V100.3M272.9 64.8V96.2M278.6 94.5V110.2M284.3 98.6V111.4M295.8 91.2V133.3M301.5 123.4V140M324.4 119.3V135.8M330.1 130V167.2M341.6 144V174.6M364.4 127.3V160.3M375.9 137.2V190.5M381.6 171V192.5M387.3 175.2V195M433.1 135.5V145.4M438.8 132.2V166.9M444.5 147.9V181M456 133.9V149.6M467.4 137.2V158.6M473.1 147.1V176M484.6 140.5V165.3M490.3 160.8V170.7M507.5 145V167.4M513.2 152V171.9M518.9 157.5V187.3M524.6 170.3V306.2M536.1 261.7V276.5M547.5 237.5V264.8M553.2 251.1V295.2M558.9 274.3V293M564.7 282V292M593.3 206V230.9M610.4 208.3V220.4M616.2 216.4V265.5M633.3 239.2V251.4M639 244.6V255.1M644.8 251.4V262.4M661.9 246V267.5M667.6 250V262.8M679.1 249.3V258.8M684.8 248V254.7M707.7 229.1V238.6M713.4 228.5V244M736.3 217V237.9M742 223.1V233.2M753.5 219.2V228.7M770.6 197V271.1M776.3 246.2V279.8M793.5 239.4V251.5M805 233.4V275.8M810.7 262.3V305M816.4 286.6V298M833.6 275.8V290.6M839.3 279.5V335.2M845 315.8V345.6M850.7 340.4V421.2M885 342.9V374.7M896.5 342.4V354.3M907.9 332V341.3M925.1 249.7V279.7M936.5 261.1V274.6M953.7 225.2V265.2M959.4 258.2V301.5M965.1 290.8V312.3M976.6 293.4V304.2M982.3 297.8V338M988 329.2V374.2M1005.2 329.2V343.8M1010.9 327.2V350.7M1028.1 339V356.6M1033.8 345.8V351.7M1039.5 344.4V355.6M1045.2 345.8V366.4M1056.7 337V433M1062.4 369.3V417.3M1068.1 397.2V410M1079.6 396.2V409.6M1085.3 405.6V436.9M1091 414.3V465M1113.9 369.9V406.4M1148.2 340.9V353.3M1153.9 343.2V356M1171.1 318.3V388.3M1182.5 347.9V361.3M1188.3 354.6V365.4M1194 346.5V365.4M1199.7 356.6V386.2M1211.1 340.9V351.9M1222.6 344.5V362M1234 339.1V381.5M1239.7 318.9V368.7M1245.5 363.4V381.5" stroke="#ea7d87" stroke-width="1" fill="none"/>
<path d="M54 83.2h3v22.3h-3zM59.7 82.3h3v1.2h-3zM76.9 124.1h3v7.8h-3zM94 165.8h3v17.3h-3zM99.8 159.5h3v6.3h-3zM116.9 141.3h3v26.5h-3zM122.7 138h3v3.3h-3zM128.4 129.1h3v8.9h-3zM145.5 134.1h3v22.1h-3zM162.7 141h3v21.5h-3zM174.1 136.4h3v9.2h-3zM179.9 131.4h3v5h-3zM185.6 131.1h3v0.8h-3zM191.3 83.2h3v48.7h-3zM202.7 72.2h3v19h-3zM219.9 76.7h3v8.7h-3zM237.1 91.2h3v17.4h-3zM242.8 96.5h3v7.9h-3zM260 79.3h3v34.2h-3zM288.6 91.7h3v13.6h-3zM305.7 131.7h3v5.8h-3zM311.4 128.4h3v3.3h-3zM317.2 120.6h3v7.8h-3zM334.3 155.3h3v5.3h-3zM345.8 160.3h3v10.7h-3zM351.5 152.5h3v5.7h-3zM357.2 142.6h3v9.9h-3zM368.7 137.7h3v21.8h-3zM391.5 189.2h3v5.3h-3zM397.3 168.1h3v21.9h-3zM403 165.3h3v3.3h-3zM408.7 160.3h3v5h-3zM414.4 154.5h3v6.3h-3zM420.1 162.4h3v7.8h-3zM425.9 144.3h3v13.9h-3zM448.7 136.3h3v37.2h-3zM460.2 140h3v7.6h-3zM477.4 151.5h3v16.2h-3zM494.5 155.3h3v7.7h-3zM500.2 145.4h3v9.9h-3zM528.8 261.7h3v39h-3zM540.3 247.2h3v19.4h-3zM568.9 275.8h3v11.5h-3zM574.6 260h3v16.5h-3zM580.3 257.8h3v2.2h-3zM586.1 216.3h3v42.1h-3zM597.5 219.3h3v4.1h-3zM603.2 213h3v6.3h-3zM620.4 258.1h3v3.4h-3zM626.1 244.4h3v14h-3zM649 255.4h3v0.8h-3zM654.7 247h3v9.1h-3zM671.9 250.7h3v5.4h-3zM689 250.7h3v3.8h-3zM694.8 250.4h3v0.6h-3zM700.5 231.2h3v19.9h-3zM717.6 240.6h3v2.7h-3zM723.4 234.1h3v6.8h-3zM729.1 226.5h3v8h-3zM746.2 223.3h3v11h-3zM757.7 224.4h3v2.9h-3zM763.4 215.9h3v8.5h-3zM780.6 246.8h3v0.7h-3zM786.3 240.1h3v7.4h-3zM797.7 240.1h3v8.5h-3zM820.6 295.3h3v4.1h-3zM826.3 280.1h3v17.5h-3zM854.9 382.4h3v8.2h-3zM860.7 375.3h3v7.3h-3zM866.4 368.6h3v6.7h-3zM872.1 366.5h3v1.7h-3zM877.8 348.4h3v18.1h-3zM889.3 341.6h3v9.2h-3zM900.7 333.3h3v13.4h-3zM912.1 315.3h3v21.5h-3zM917.9 259.5h3v55.5h-3zM929.3 262.5h3v7.8h-3zM940.8 255.4h3v14.1h-3zM946.5 225.2h3v30.2h-3zM969.4 296.4h3v11.9h-3zM992.2 336.4h3v20.2h-3zM998 331.5h3v4.9h-3zM1015.1 345.8h3v2.6h-3zM1020.8 341.3h3v4.5h-3zM1049.5 346.4h3v19.6h-3zM1072.3 400.1h3v14.3h-3zM1095.2 436.5h3v6.1h-3zM1100.9 429.1h3v7.4h-3zM1106.7 388.3h3v41.2h-3zM1118.1 394.3h3v7.4h-3zM1123.8 387.4h3v6.9h-3zM1129.5 379.1h3v8.1h-3zM1135.3 349.2h3v30.3h-3zM1141 341.4h3v7.8h-3zM1158.2 340.9h3v11.3h-3zM1163.9 322.3h3v18.6h-3zM1175.3 355.3h3v0.9h-3zM1203.9 348.1h3v20.2h-3zM1215.4 344.9h3v4.3h-3zM1226.8 345.2h3v12.4h-3z" fill="#3f9645" stroke="#111" stroke-width="1"/>
<path d="M65.4 90.6h3v5.8h-3zM71.2 95h3v36.9h-3zM82.6 124.1h3v11.1h-3zM88.3 135.2h3v47.9h-3zM105.5 159.5h3v7.1h-3zM111.2 166.6h3v1.2h-3zM134.1 129.1h3v19.3h-3zM139.8 148.4h3v7.8h-3zM151.3 134.1h3v22.6h-3zM157 156.7h3v4.9h-3zM168.4 140.2h3v5.8h-3zM197 83.2h3v8.2h-3zM208.5 72.2h3v9.4h-3zM214.2 81.3h3v4.1h-3zM225.6 76.7h3v6.6h-3zM231.4 83.3h3v25.3h-3zM248.5 95.3h3v7.8h-3zM254.2 103.6h3v9.9h-3zM265.7 79.3h3v1.7h-3zM271.4 81h3v14.3h-3zM277.1 95.3h3v9.1h-3zM282.8 103.3h3v2h-3zM294.3 91.7h3v37.5h-3zM300 129.2h3v8.3h-3zM322.9 120.6h3v10.3h-3zM328.6 130.9h3v29.7h-3zM340.1 155.3h3v15.2h-3zM362.9 142.6h3v16.9h-3zM374.4 137.7h3v35.8h-3zM380.1 173.5h3v12.1h-3zM385.8 186.2h3v8.3h-3zM431.6 143.3h3v1.3h-3zM437.3 143.3h3v23.6h-3zM443 166.4h3v7.1h-3zM454.5 136.7h3v10.9h-3zM465.9 140h3v13.7h-3zM471.6 153.2h3v14.5h-3zM483.1 151.5h3v10.9h-3zM488.8 162h3v1h-3zM506 145.4h3v12.1h-3zM511.7 157.5h3v2.7h-3zM517.4 160.4h3v9.9h-3zM523.1 170.3h3v130.4h-3zM534.6 261.7h3v4.9h-3zM546 247.2h3v9.5h-3zM551.7 256.7h3v20.4h-3zM557.4 277.1h3v8.8h-3zM563.2 285.9h3v1.4h-3zM591.8 216.3h3v11.1h-3zM608.9 213.4h3v6.7h-3zM614.7 220.1h3v41.4h-3zM631.8 244.4h3v4h-3zM637.5 246.2h3v6.2h-3zM643.3 252.4h3v3.7h-3zM660.4 247h3v13.5h-3zM666.1 260.1h3v2.3h-3zM677.6 251.4h3v2h-3zM683.3 253.1h3v0.6h-3zM706.2 230.1h3v1.3h-3zM711.9 230.1h3v13.5h-3zM734.8 226.2h3v0.6h-3zM740.5 226.5h3v5.3h-3zM752 223.3h3v4h-3zM769.1 215.9h3v31.6h-3zM774.8 246.8h3v0.7h-3zM792 240.1h3v8.5h-3zM803.5 240.1h3v35.7h-3zM809.2 275.8h3v21.5h-3zM814.9 296.9h3v0.7h-3zM832.1 280.1h3v7.5h-3zM837.8 287.5h3v44.5h-3zM843.5 332.4h3v12.7h-3zM849.2 345.1h3v45.5h-3zM883.5 348.4h3v2.4h-3zM895 346h3v0.8h-3zM906.4 333.3h3v3.2h-3zM923.6 259.5h3v10.8h-3zM935 262.5h3v7h-3zM952.2 225.2h3v34.3h-3zM957.9 258.5h3v37.4h-3zM963.6 296.1h3v12.2h-3zM975.1 296.8h3v2.7h-3zM980.8 299.4h3v30.7h-3zM986.5 330.1h3v26.5h-3zM1003.7 331.5h3v1h-3zM1009.4 332.5h3v15.9h-3zM1026.6 341.3h3v7.1h-3zM1032.3 346.8h3v0.8h-3zM1038 346.4h3v0.8h-3zM1043.7 347.2h3v18.8h-3zM1055.2 346.4h3v48.4h-3zM1060.9 394.4h3v10.9h-3zM1066.6 405.1h3v0.8h-3zM1078.1 401.3h3v4.5h-3zM1083.8 405.9h3v22.8h-3zM1089.5 428.5h3v14h-3zM1112.4 386h3v15.7h-3zM1146.7 343.2h3v8.4h-3zM1152.4 351.6h3v1h-3zM1169.6 322.3h3v33.4h-3zM1181 357.3h3v3.4h-3zM1186.8 359.3h3v1.4h-3zM1192.5 359.3h3v2.7h-3zM1198.2 362.4h3v5.9h-3zM1209.6 347.6h3v0.9h-3zM1221.1 345.5h3v12.1h-3zM1232.5 345.2h3v5.1h-3zM1238.2 350.3h3v16.4h-3zM1244 366.4h3v13.1h-3z" fill="#e8424f" stroke="#111" stroke-width="1"/>
<path d="M335.2 253.1L387.8 213.7M375.6 212L387.8 213.7L386.1 225.9M467.5 360.1L519 316.8M506.7 315.7L519 316.8L517.9 329.1M570.8 154.1L587.6 192.9M592.1 181.5L587.6 192.9L576.2 188.4M724.4 163.6L760 194.8M759.2 182.5L760 194.8L747.7 195.6M770.7 341.4L805 310.5M792.7 309.9L805 310.5L804.4 322.8M805 475.5L846.5 426.2M834.2 427.3L846.5 426.2L847.6 438.5M1010.6 475.5L1056.9 422.8M1044.6 423.6L1056.9 422.8L1057.7 435.1M1147.7 247.1L1164.9 290.8M1169.8 279.5L1164.9 290.8L1153.6 285.9M1256.7 242.1L1291.4 290.5M1293.4 278.4L1291.4 290.5L1279.3 288.5M1399 168.9L1440 195.3M1437.4 183.3L1440 195.3L1428 197.9M1445.3 377.2L1376.9 407.3M1388.4 411.8L1376.9 407.3L1381.4 395.8M1244.6 382.8 L1279.3 413.8 L1331.3 322.3 L1365.1 366.8 L1480 247.7 L1531.2 299.8 L1606.6 213.9M1594.3 214.7L1606.6 213.9L1607.4 226.2M1240.3 391.2 L1319.6 454.9 L1348.9 422.6 L1393.9 490.1 L1416.8 470.5 L1481.1 559.7M1483.1 547.6L1481.1 559.7L1469 557.7" stroke="#2962ff" stroke-width="1.8" fill="none" stroke-linejoin="miter" stroke-linecap="butt"/>
</g>
<rect x="52" y="639.4" width="1737" height="48.5" fill="#2196f3" fill-opacity="0.1"/>
<path d="M52 639.4H1789" stroke="#6a6d78" stroke-width="1" stroke-dasharray="4.5 4.5" fill="none"/><path d="M52 687.9H1789" stroke="#a3a6af" stroke-width="1" stroke-dasharray="4.5 4.5" fill="none"/>
<g clip-path="url(#cs)">
<polyline points="49.8,644 55.5,646.1 61.2,647.2 66.9,650 72.7,664.8 78.4,677.6 84.1,685.4 89.8,689.9 95.5,690 101.3,689.5 107,684.6 112.7,684.6 118.4,681 124.2,673.1 129.9,664.7 135.6,665.9 141.3,670.1 147,669 152.8,665.9 158.5,663.9 164.2,661.9 169.9,659.1 175.6,652.3 181.4,649.8 187.1,646.2 192.8,640.5 198.5,638.9 204.2,632.1 210,631.7 215.7,630.3 221.4,632.3 227.1,638.8 232.9,649 238.6,658.7 244.3,664.1 250,666.9 255.7,675.2 261.5,673 267.2,669.8 272.9,667.6 278.6,676.3 284.3,684.3 290.1,683.3 295.8,688 301.5,692.9 307.2,695.1 312.9,687.9 318.7,678 324.4,677.8 330.1,684.3 335.8,691.7 341.6,698.2 347.3,696.5 353,692.4 358.7,683.1 364.4,681.7 370.2,675.2 375.9,679.1 381.6,681.5 387.3,695 393,698.5 398.8,690.2 404.5,678.5 410.2,667.8 415.9,661.6 421.6,659.4 427.4,652.2 433.1,648.6 438.8,650.2 444.5,660.2 450.2,655.5 456,647 461.7,636.5 467.4,645.3 473.1,654.5 478.9,661.9 484.6,669.7 490.3,672.9 496,674.7 501.7,666.6 507.5,664 513.2,666.3 518.9,675.9 524.6,686.2 530.3,689.5 536.1,690.9 541.8,682.3 547.5,680.8 553.2,681.9 558.9,688 564.7,692.9 570.4,692.6 576.1,688.1 581.8,683.2 587.6,672.6 593.3,666 599,656.9 604.7,647.5 610.4,638.7 616.2,643.9 621.9,656 627.6,662.5 633.3,659 639,657.5 644.8,660.6 650.5,667.8 656.2,672.3 661.9,682.7 667.6,688.9 673.4,691.2 679.1,687.8 684.8,683.7 690.5,682.5 696.3,674.7 702,658.9 707.7,645.9 713.4,645.7 719.1,651.4 724.9,653 730.6,648.3 736.3,645.6 742,650 747.7,649.4 753.5,650.7 759.2,647.2 764.9,643.4 770.6,652.5 776.3,661.3 782.1,674.3 787.8,669.9 793.5,670.3 799.2,668.1 805,679.7 810.7,688 816.4,699 822.1,697.9 827.8,693.6 833.6,691.1 839.3,692.9 845,699 850.7,699.1 856.4,694.3 862.2,688 867.9,685 873.6,682.7 879.3,678.7 885,674.1 890.8,667 896.5,663.6 902.2,659.3 907.9,658.3 913.6,652 919.4,647 925.1,642.9 930.8,643 936.5,645.9 942.3,645.2 948,639.9 953.7,638.6 959.4,645.7 965.1,662.2 970.9,670.5 976.6,673.4 982.3,679.9 988,688.2 993.7,692.3 999.5,687.3 1005.2,683 1010.9,685 1016.6,687.5 1022.3,689 1028.1,688.8 1033.8,687.6 1039.5,684.5 1045.2,686.5 1051,683.4 1056.7,684.5 1062.4,680.3 1068.1,682.8 1073.8,682.2 1079.6,682.2 1085.3,686.9 1091,690.7 1096.7,691.9 1102.4,686.4 1108.2,674.7 1113.9,667.1 1119.6,659.7 1125.3,659.6 1131,654.8 1136.8,643.8 1142.5,633.3 1148.2,626.8 1153.9,628.2 1159.7,629.9 1165.4,631.7 1171.1,639.1 1176.8,647.6 1182.5,655.8 1188.3,661.6 1194,668 1199.7,674.3 1205.4,672.1 1211.1,670.8 1216.9,666.4 1222.6,670.9 1228.3,669.9 1234,671.5 1239.7,674.1 1245.5,683.3" fill="none" stroke="#ff6d00" stroke-width="1"/>
<polyline points="49.8,649 55.5,643.2 61.2,646.8 66.9,662.2 72.7,696.6 78.4,686 84.1,684.4 89.8,701.9 95.5,685.1 101.3,682.9 107,685.6 112.7,684.8 118.4,670.9 124.2,665.3 129.9,660.6 135.6,673.9 141.3,675.9 147,657.1 152.8,664.6 158.5,670.1 164.2,651 169.9,656.2 175.6,649.6 181.4,643.7 187.1,645.1 192.8,632.8 198.5,638.7 204.2,624.9 210,631.6 215.7,634.4 221.4,631 227.1,651.2 232.9,664.7 238.6,660.3 244.3,667.4 250,672.9 255.7,685.3 261.5,660.7 267.2,663.3 272.9,678.8 278.6,686.7 284.3,687.4 290.1,675.7 295.8,700.9 301.5,702.2 307.2,682.2 312.9,679.3 318.7,672.5 324.4,681.5 330.1,698.9 335.8,694.7 341.6,701.1 347.3,693.6 353,682.7 358.7,673.1 364.4,689.5 370.2,663 375.9,684.9 381.6,696.5 387.3,703.6 393,695.6 398.8,671.5 404.5,668.4 410.2,663.4 415.9,653.1 421.6,661.7 427.4,641.9 433.1,642.2 438.8,666.6 444.5,671.7 450.2,628.1 456,641.3 461.7,640 467.4,654.4 473.1,669.1 478.9,662.3 484.6,677.7 490.3,678.6 496,667.7 501.7,653.6 507.5,670.8 513.2,674.6 518.9,682.4 524.6,701.7 530.3,684.4 536.1,686.5 541.8,675.9 547.5,680 553.2,689.9 558.9,694.2 564.7,694.6 570.4,688.9 576.1,680.9 581.8,679.8 587.6,657 593.3,661.3 599,652.4 604.7,628.9 610.4,634.6 616.2,668 621.9,665.3 627.6,654.2 633.3,657.5 639,660.7 644.8,663.7 650.5,679 656.2,674.3 661.9,694.9 667.6,697.4 673.4,681.2 679.1,684.8 684.8,685.1 690.5,677.5 696.3,661.3 702,638 707.7,638.4 713.4,660.6 719.1,655.1 724.9,643.3 730.6,646.6 736.3,646.8 742,656.7 747.7,644.5 753.5,650.9 759.2,646.3 764.9,632.9 770.6,678.4 776.3,672.6 782.1,671.9 787.8,665.3 793.5,673.6 799.2,665.3 805,700.2 810.7,698.3 816.4,698.6 822.1,696.8 827.8,685.5 833.6,691.1 839.3,702.2 845,703.8 850.7,691.3 856.4,687.9 862.2,684.9 867.9,682.1 873.6,681.2 879.3,672.8 885,668.3 890.8,659.8 896.5,662.7 902.2,655.2 907.9,657 913.6,643.7 919.4,640.4 925.1,644.7 930.8,643.9 936.5,649.2 942.3,642.5 948,627.9 953.7,645.4 959.4,664 965.1,677.2 970.9,670.3 976.6,672.6 982.3,696.9 988,695.1 993.7,684.8 999.5,681.9 1005.2,682.4 1010.9,690.7 1016.6,689.3 1022.3,687 1028.1,690.1 1033.8,685.6 1039.5,677.9 1045.2,695.9 1051,676.3 1056.7,681.3 1062.4,683.3 1068.1,683.8 1073.8,679.4 1079.6,683.3 1085.3,698.1 1091,690.6 1096.7,687 1102.4,681.4 1108.2,655.7 1113.9,664.1 1119.6,659.5 1125.3,655.1 1131,649.9 1136.8,626.4 1142.5,623.6 1148.2,630.2 1153.9,630.9 1159.7,628.5 1165.4,635.8 1171.1,653.1 1176.8,654 1182.5,660.3 1188.3,670.6 1194,672.9 1199.7,679.5 1205.4,663.8 1211.1,669.2 1216.9,666.1 1222.6,677.2 1228.3,666.4 1234,670.8 1239.7,685.2 1245.5,693.9" fill="none" stroke="#2196f3" stroke-width="1"/>
</g>
<path d="M52 613.5H1847" stroke="#131722" stroke-width="1"/>
<text x="58" y="56.4" font-size="11.4" fill="#131722">EURUSD · EURUSD · 4h</text>
<circle cx="206" cy="51.5" r="7.5" fill="#e9eaee"/><rect x="201.5" y="50.3" width="9" height="2.6" rx="1.3" fill="#9598a1"/>
<text x="226.6" y="56" font-size="10.4" fill="#131722">O - Aper. 1.02806</text>
<text x="313.2" y="56" font-size="10.4" fill="#131722">H - Max. 1.02839</text>
<text x="397.4" y="56" font-size="10.4" fill="#131722">L - Min. 1.02652</text>
<text x="477.3" y="56" font-size="10.4" fill="#131722">C - Chius. 1.02675</text>
<text x="568.2" y="56" font-size="10.4" fill="#131722">−0.00132 (−0.13%)</text>
<text x="955.1" y="111.5" font-size="14.4" fill="#131722" stroke="#131722" stroke-width="0.3" textLength="175.9" lengthAdjust="spacing" style="font-family:'DejaVu Sans',sans-serif">DUE SCENARI POSSIBILI.</text>
<text x="955.1" y="127.3" font-size="14.4" fill="#131722" stroke="#131722" stroke-width="0.3" textLength="218.1" lengthAdjust="spacing" style="font-family:'DejaVu Sans',sans-serif">TRUMP AGO DELLA BILANCIA.</text>
<text x="1326.5" y="134" font-size="14.4" fill="#131722" stroke="#131722" stroke-width="0.3" textLength="118.7" lengthAdjust="spacing" style="font-family:'DejaVu Sans',sans-serif">LIVELLO CHIAVE</text>
<text x="1326.5" y="150.8" font-size="14.4" fill="#131722" stroke="#131722" stroke-width="0.3" textLength="192.7" lengthAdjust="spacing" style="font-family:'DejaVu Sans',sans-serif">DI MEDIO TERMINE 1.0450</text>
<text x="1601.5" y="175.3" font-size="14.4" fill="#131722" stroke="#131722" stroke-width="0.3" textLength="74.3" lengthAdjust="spacing" style="font-family:'DejaVu Sans',sans-serif">SCENARIO</text>
<text x="1601.5" y="191.8" font-size="14.4" fill="#131722" stroke="#131722" stroke-width="0.3" textLength="73.5" lengthAdjust="spacing" style="font-family:'DejaVu Sans',sans-serif">RIALZISTA</text>
<text x="1304.1" y="252" font-size="14.4" fill="#131722" stroke="#131722" stroke-width="0.3" textLength="139.2" lengthAdjust="spacing" style="font-family:'DejaVu Sans',sans-serif">PRIMA RESISTENZA</text>
<text x="1304.1" y="268" font-size="14.4" fill="#131722" stroke="#131722" stroke-width="0.3" textLength="123.1" lengthAdjust="spacing" style="font-family:'DejaVu Sans',sans-serif">DI BREVE 1.0350</text>
<text x="1476.5" y="388.5" font-size="14.4" fill="#131722" stroke="#131722" stroke-width="0.3" textLength="129.7" lengthAdjust="spacing" style="font-family:'DejaVu Sans',sans-serif">TARGET DI BREVE</text>
<text x="1476.5" y="405.3" font-size="14.4" fill="#131722" stroke="#131722" stroke-width="0.3" textLength="50.6" lengthAdjust="spacing" style="font-family:'DejaVu Sans',sans-serif">1.0230</text>
<text x="1521.6" y="550.3" font-size="14.4" fill="#131722" stroke="#131722" stroke-width="0.3" textLength="74.4" lengthAdjust="spacing" style="font-family:'DejaVu Sans',sans-serif">SCENARIO</text>
<text x="1521.6" y="566.4" font-size="14.4" fill="#131722" stroke="#131722" stroke-width="0.3" textLength="81.8" lengthAdjust="spacing" style="font-family:'DejaVu Sans',sans-serif">RIBASSISTA</text>
<text x="1252.3" y="584.7" font-size="14.4" fill="#131722" stroke="#131722" stroke-width="0.3" textLength="135.2" lengthAdjust="spacing" style="font-family:'DejaVu Sans',sans-serif">TARGT RIBASSISTA</text>
<text x="1252.3" y="600.8" font-size="14.4" fill="#131722" stroke="#131722" stroke-width="0.3" textLength="117.3" lengthAdjust="spacing" style="font-family:'DejaVu Sans',sans-serif">0.9980 - 1.0000</text>
<text x="1838" y="63" font-size="11" fill="#b2b5be" text-anchor="end">1.06000</text>
<text x="1838" y="111.5" font-size="11" fill="#b2b5be" text-anchor="end">1.05500</text>
<text x="1838" y="159.8" font-size="11" fill="#b2b5be" text-anchor="end">1.05000</text>
<text x="1838" y="400" font-size="11" fill="#b2b5be" text-anchor="end">1.02500</text>
<text x="1838" y="448" font-size="11" fill="#b2b5be" text-anchor="end">1.02000</text>
<text x="1838" y="496.2" font-size="11" fill="#b2b5be" text-anchor="end">1.01500</text>
<text x="1838" y="544.5" font-size="11" fill="#b2b5be" text-anchor="end">1.01000</text>
<text x="1838" y="592" font-size="11" fill="#b2b5be" text-anchor="end">1.00500</text>
<rect x="1789.5" y="41" width="54.5" height="15.299999999999997" fill="#dde9f7" rx="1"/><text x="1839" y="53.4" font-size="11" fill="#131722" stroke="#131722" stroke-width="0.3" text-anchor="end">1.06291</text>
<rect x="1737.3" y="41" width="51.100000000000136" height="15.299999999999997" fill="#dde9f7" rx="1"/><text x="1783.4" y="53.4" font-size="11" fill="#131722" stroke="#131722" stroke-width="0.3" text-anchor="end">Massimo</text>
<rect x="1790" y="194.6" width="54" height="16.599999999999994" fill="#131722" rx="1"/><text x="1839" y="207.7" font-size="11" fill="#fff" stroke="#fff" stroke-width="0.3" text-anchor="end">1.04514</text>
<rect x="1790" y="242.4" width="54" height="17.099999999999994" fill="#4caf50" rx="1"/><text x="1839" y="255.8" font-size="11" fill="#fff" stroke="#fff" stroke-width="0.3" text-anchor="end">1.04009</text>
<rect x="1790" y="271.8" width="54" height="16.19999999999999" fill="#131722" rx="1"/><text x="1839" y="284.7" font-size="11" fill="#fff" stroke="#fff" stroke-width="0.3" text-anchor="end">1.03428</text>
<rect x="1790" y="288" width="54" height="17.100000000000023" fill="#ef3f50" rx="1"/><text x="1839" y="301.4" font-size="11" fill="#fff" stroke="#fff" stroke-width="0.3" text-anchor="end">1.03279</text>
<rect x="1790" y="305.1" width="54" height="16.599999999999966" fill="#2196f3" rx="1"/><text x="1839" y="318.2" font-size="11" fill="#fff" stroke="#fff" stroke-width="0.3" text-anchor="end">1.03193</text>
<rect x="1790" y="321.7" width="54" height="16.100000000000023" fill="#ff6d00" rx="1"/><text x="1839" y="334.6" font-size="11" fill="#fff" stroke="#fff" stroke-width="0.3" text-anchor="end">1.02948</text>
<rect x="1790" y="337.8" width="54" height="16.399999999999977" fill="#2196f3" rx="1"/><text x="1839" y="350.8" font-size="11" fill="#fff" stroke="#fff" stroke-width="0.3" text-anchor="end">1.02874</text>
<rect x="1790" y="354.2" width="54" height="16.0" fill="#2196f3" rx="1"/><text x="1839" y="367.0" font-size="11" fill="#fff" stroke="#fff" stroke-width="0.3" text-anchor="end">1.02704</text>
<rect x="1790" y="370.2" width="54" height="17.100000000000023" fill="#ef3f50" rx="1"/><text x="1839" y="383.6" font-size="11" fill="#fff" stroke="#fff" stroke-width="0.3" text-anchor="end">1.02675</text>
<rect x="1739.2" y="370.2" width="49.5" height="17.100000000000023" fill="#ef3f50" rx="1"/><text x="1742.8" y="383.6" font-size="11" fill="#fff" stroke="#fff" stroke-width="0.3" textLength="41.5" lengthAdjust="spacingAndGlyphs">EURUSD</text>
<rect x="1790" y="408.3" width="54" height="16.69999999999999" fill="#131722" rx="1"/><text x="1839" y="421.4" font-size="11" fill="#fff" stroke="#fff" stroke-width="0.3" text-anchor="end">1.02287</text>
<rect x="1790" y="455.9" width="54" height="16.100000000000023" fill="#131722" rx="1"/><text x="1839" y="468.8" font-size="11" fill="#fff" stroke="#fff" stroke-width="0.3" text-anchor="end">1.01784</text>
<rect x="1789.5" y="473.4" width="54.5" height="16.600000000000023" fill="#dde9f7" rx="1"/><text x="1839" y="486.5" font-size="11" fill="#131722" stroke="#131722" stroke-width="0.3" text-anchor="end">1.01766</text>
<rect x="1743.5" y="473.4" width="45.09999999999991" height="16.600000000000023" fill="#dde9f7" rx="1"/><text x="1783.6" y="486.5" font-size="11" fill="#131722" stroke="#131722" stroke-width="0.3" text-anchor="end">Minimo</text>
<text x="1826" y="643.4" font-size="11" fill="#b2b5be" text-anchor="end">80.00</text>
<text x="1819" y="708" font-size="11" fill="#b2b5be" text-anchor="end">0.00</text>
<rect x="1790.4" y="667.1" width="40.799999999999955" height="16.699999999999932" fill="#ff6d00" rx="1"/><text x="1826.2" y="680.2" font-size="11" fill="#fff" stroke="#fff" stroke-width="0.3" text-anchor="end">27.13</text>
<rect x="1790.4" y="683.8" width="40.799999999999955" height="16.5" fill="#2196f3" rx="1"/><text x="1826.2" y="696.8" font-size="11" fill="#fff" stroke="#fff" stroke-width="0.3" text-anchor="end">14.40</text>
<path d="M1816.6 720.5h6.2l3.1 5.3-3.1 5.3h-6.2l-3.1-5.3z" fill="none" stroke="#131722" stroke-width="1.1"/><circle cx="1819.7" cy="725.8" r="1.7" fill="none" stroke="#131722" stroke-width="1.1"/>
<text x="66.4" y="728" font-size="11" fill="#b2b5be" text-anchor="middle">Dic</text>
<text x="175.5" y="728" font-size="11" fill="#b2b5be" text-anchor="middle">5</text>
<text x="284" y="728" font-size="11" fill="#b2b5be" text-anchor="middle">10</text>
<text x="387" y="728" font-size="11" fill="#b2b5be" text-anchor="middle">13</text>
<text x="496" y="728" font-size="11" fill="#b2b5be" text-anchor="middle">18</text>
<text x="598.4" y="728" font-size="11" fill="#b2b5be" text-anchor="middle">22</text>
<text x="678.8" y="728" font-size="11" fill="#b2b5be" text-anchor="middle">26</text>
<text x="821.6" y="728" font-size="11" fill="#b2b5be" text-anchor="middle" font-weight="bold">2025</text>
<text x="901.5" y="728" font-size="11" fill="#b2b5be" text-anchor="middle">6</text>
<text x="1004.8" y="728" font-size="11" fill="#b2b5be" text-anchor="middle">9</text>
<text x="1113.8" y="728" font-size="11" fill="#b2b5be" text-anchor="middle">14</text>
<text x="1216.7" y="728" font-size="11" fill="#b2b5be" text-anchor="middle">17</text>
<text x="1324.8" y="728" font-size="11" fill="#b2b5be" text-anchor="middle">22</text>
<text x="1428.2" y="728" font-size="11" fill="#b2b5be" text-anchor="middle">26</text>
<text x="1519.4" y="728" font-size="11" fill="#b2b5be" text-anchor="middle">12:00</text>
<text x="1605.8" y="728" font-size="11" fill="#b2b5be" text-anchor="middle">Feb</text>
<text x="1713.9" y="728" font-size="11" fill="#b2b5be" text-anchor="middle">6</text>
</svg>
</body></html>
